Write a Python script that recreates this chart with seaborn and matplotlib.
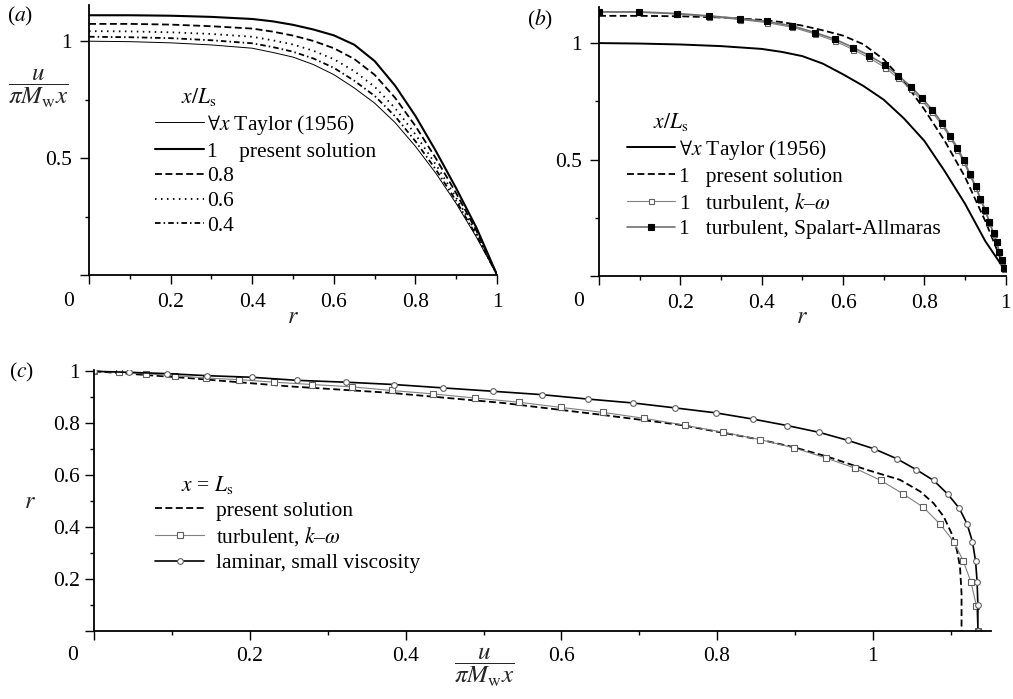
import matplotlib
matplotlib.use('Agg')
import matplotlib.pyplot as plt
import seaborn as sns

# panels (a), (b): u/(pi Mw x) against r
r_grid = [0, 0.1, 0.2, 0.3, 0.4, 0.45, 0.5, 0.55, 0.6, 0.65, 0.7, 0.75, 0.8, 0.85, 0.9, 0.95, 1.0]
taylor = [1.0, 0.998, 0.993, 0.984, 0.97, 0.952, 0.932, 0.9, 0.857, 0.8, 0.735, 0.652, 0.55, 0.435, 0.305, 0.16, 0.0]
present_10 = [1.111, 1.111, 1.109, 1.104, 1.095, 1.085, 1.07, 1.05, 1.025, 0.985, 0.915, 0.81, 0.68, 0.53, 0.37, 0.2, 0.0]
present_08 = [1.074, 1.074, 1.071, 1.064, 1.054, 1.041, 1.024, 1.001, 0.970, 0.924, 0.856, 0.758, 0.637, 0.499, 0.349, 0.187, 0.0]
present_06 = [1.043, 1.042, 1.038, 1.031, 1.019, 1.004, 0.986, 0.959, 0.923, 0.872, 0.805, 0.714, 0.601, 0.472, 0.330, 0.176, 0.0]
present_04 = [1.019, 1.017, 1.013, 1.004, 0.991, 0.975, 0.955, 0.926, 0.886, 0.831, 0.766, 0.679, 0.572, 0.451, 0.316, 0.167, 0.0]

taylor_b = [1.0, 0.998, 0.994, 0.987, 0.975, 0.962, 0.944, 0.912, 0.866, 0.816, 0.757, 0.676, 0.58, 0.45, 0.31, 0.149, 0.02]
present_b = [1.117, 1.117, 1.115, 1.11, 1.10, 1.09, 1.075, 1.055, 1.032, 0.995, 0.93, 0.835, 0.715, 0.58, 0.425, 0.235, 0.02]
r_turb = [0, 0.099, 0.191, 0.271, 0.347, 0.412, 0.475, 0.531, 0.580, 0.625, 0.665, 0.703, 0.736, 0.767, 0.793,
          0.820, 0.843, 0.863, 0.881, 0.897, 0.912, 0.926, 0.938, 0.950, 0.960, 0.970, 0.978, 0.984, 0.990, 0.996]
u_sa = [1.134, 1.134, 1.127, 1.117, 1.105, 1.093, 1.074, 1.045, 1.017, 0.981, 0.946, 0.906, 0.860, 0.813, 0.765,
        0.713, 0.658, 0.603, 0.551, 0.496, 0.439, 0.385, 0.332, 0.282, 0.232, 0.183, 0.147, 0.104, 0.068, 0.033]
u_kw = [1.134, 1.132, 1.125, 1.114, 1.101, 1.088, 1.068, 1.039, 1.009, 0.972, 0.936, 0.895, 0.849, 0.802, 0.754,
        0.702, 0.648, 0.594, 0.542, 0.488, 0.432, 0.379, 0.327, 0.277, 0.228, 0.180, 0.144, 0.102, 0.066, 0.032]

# panel (c): r against u/(pi Mw x) at x = Ls
u_pres_c = [0, 0.12, 0.25, 0.38, 0.525, 0.65, 0.752, 0.855, 0.898, 0.941, 0.992, 1.035, 1.061, 1.078, 1.091,
            1.101, 1.108, 1.112, 1.114, 1.114]
r_pres_c = [1.0, 0.974, 0.942, 0.917, 0.878, 0.833, 0.794, 0.737, 0.708, 0.672, 0.621, 0.582, 0.537, 0.492, 0.441,
            0.377, 0.312, 0.248, 0.145, 0.0]
u_kw_c = [0, 0.032, 0.066, 0.104, 0.144, 0.186, 0.231, 0.280, 0.331, 0.382, 0.435, 0.489, 0.545, 0.599, 0.653,
          0.706, 0.759, 0.808, 0.855, 0.899, 0.940, 0.977, 1.010, 1.039, 1.065, 1.086, 1.104, 1.116, 1.126, 1.133, 1.135]
r_kw_c = [1.0, 0.996, 0.990, 0.983, 0.974, 0.968, 0.958, 0.949, 0.940, 0.926, 0.913, 0.897, 0.881, 0.861, 0.842,
          0.819, 0.792, 0.765, 0.737, 0.705, 0.666, 0.627, 0.580, 0.528, 0.476, 0.413, 0.344, 0.271, 0.190, 0.098, 0.0]
u_lam_c = [0, 0.045, 0.093, 0.145, 0.202, 0.261, 0.323, 0.385, 0.448, 0.512, 0.575, 0.634, 0.692, 0.746, 0.798,
           0.846, 0.890, 0.931, 0.968, 1.002, 1.031, 1.056, 1.078, 1.096, 1.111, 1.121, 1.128, 1.132, 1.134, 1.135, 1.135]
r_lam_c = [1.0, 0.996, 0.991, 0.983, 0.977, 0.965, 0.958, 0.949, 0.936, 0.923, 0.910, 0.893, 0.878, 0.859, 0.840,
           0.816, 0.791, 0.765, 0.734, 0.701, 0.663, 0.621, 0.580, 0.528, 0.473, 0.413, 0.344, 0.270, 0.190, 0.100, 0.0]

FS = 15.5
sns.set_theme(style='ticks')
plt.rcParams['font.family'] = ['Liberation Serif', 'DejaVu Serif']
plt.rcParams['mathtext.fontset'] = 'stix'
plt.rcParams['lines.scale_dashes'] = False
plt.rcParams['axes.linewidth'] = 1.3
plt.rcParams['axes.edgecolor'] = 'black'
plt.rcParams['text.color'] = 'black'
plt.rcParams['xtick.color'] = 'black'
plt.rcParams['ytick.color'] = 'black'

fig = plt.figure(figsize=(10.13, 6.99), dpi=100)
ax_a = fig.add_axes([0.0879, 0.6066, 0.4028, 0.3863])
ax_b = fig.add_axes([0.5913, 0.6052, 0.4015, 0.3848])
ax_c = fig.add_axes([0.0931, 0.0973, 0.8853, 0.3734])

frac = r'$\dfrac{u}{\pi M_\mathrm{w} x}$'


def line(ax, x, y, label, **kw):
    sns.lineplot(x=x, y=y, ax=ax, label=label, estimator=None, sort=False, **kw)


# (a)
line(ax_a, r_grid, taylor, r'$\forall x$ Taylor (1956)', color='black', linewidth=0.7)
line(ax_a, r_grid, present_10, '1    present solution', color='black', linewidth=1.5)
line(ax_a, r_grid, present_08, '0.8', color='black', linewidth=1.3, linestyle=(0, (5, 2.5)))
line(ax_a, r_grid, present_06, '0.6', color='black', linewidth=1.3, linestyle=(0, (1.1, 3.2)))
line(ax_a, r_grid, present_04, '0.4', color='black', linewidth=1.3, linestyle=(0, (4, 2.2, 1.1, 2.2)))

# (b)
line(ax_b, r_grid, taylor_b, r'$\forall x$ Taylor (1956)', color='black', linewidth=1.4)
line(ax_b, r_grid, present_b, '1   present solution', color='black', linewidth=1.3, linestyle=(0, (5, 2.5)))
line(ax_b, r_turb, u_kw, r'1   turbulent, $k$–$\omega$', color='#808080', linewidth=0.8, marker='s',
     markersize=3.6, markerfacecolor='white', markeredgecolor='#606060', markeredgewidth=0.8)
line(ax_b, r_turb, u_sa, '1   turbulent, Spalart-Allmaras', color='#707070', linewidth=1.2, marker='s',
     markersize=4.8, markerfacecolor='black', markeredgecolor='black', markeredgewidth=0.8)

# (c)
line(ax_c, u_pres_c, r_pres_c, 'present solution', color='black', linewidth=1.3, linestyle=(0, (5, 2.5)))
line(ax_c, u_kw_c, r_kw_c, r'turbulent, $k$–$\omega$', color='#808080', linewidth=0.8, marker='s',
     markersize=4.3, markerfacecolor='white', markeredgecolor='#606060', markeredgewidth=0.8)
line(ax_c, u_lam_c, r_lam_c, 'laminar, small viscosity', color='black', linewidth=1.2, marker='o',
     markersize=4.1, markerfacecolor='white', markeredgecolor='#606060', markeredgewidth=0.8)

for ax in (ax_a, ax_b):
    ax.set_xlim(0, 1)
    ax.set_ylim(0, 1.155)
    ax.set_xticks([0, 0.2, 0.4, 0.6, 0.8, 1.0], ['', '0.2', '0.4', '0.6', '0.8', '1'])
    ax.set_xticks([0.1, 0.3, 0.5, 0.7, 0.9], minor=True)
    ax.set_yticks([0, 0.5, 1.0], ['', '0.5', '1'])
    ax.set_yticks([0.25, 0.75], minor=True)
    ax.tick_params(axis='x', which='major', pad=6.5)
    ax.tick_params(axis='y', which='major', pad=6)

ax_c.set_xlim(0, 1.152)
ax_c.set_ylim(0, 1.005)
ax_c.set_xticks([0, 0.2, 0.4, 0.6, 0.8, 1.0], ['', '0.2', '0.4', '0.6', '0.8', '1'])
ax_c.set_xticks([0.1, 0.3, 0.5, 0.7, 0.9, 1.1], minor=True)
ax_c.set_yticks([0, 0.2, 0.4, 0.6, 0.8, 1.0], ['', '0.2', '0.4', '0.6', '0.8', '1'])
ax_c.set_yticks([0.1, 0.3, 0.5, 0.7, 0.9], minor=True)
ax_c.tick_params(axis='x', which='major', pad=5)
ax_c.tick_params(axis='y', which='major', pad=4)

for ax in (ax_a, ax_b, ax_c):
    sns.despine(ax=ax)
    ax.tick_params(which='major', direction='out', length=6.5, width=1.0, labelsize=FS)
    ax.tick_params(which='minor', direction='out', length=3, width=1.0)
    ax.set_xlabel('')
    ax.set_ylabel('')

# corner zeros
ax_a.annotate('0', xy=(0, 0), xytext=(-15, -19.4), textcoords='offset points', ha='center', va='center', fontsize=FS)
ax_b.annotate('0', xy=(0, 0), xytext=(-14.4, -18.7), textcoords='offset points', ha='center', va='center', fontsize=FS)
ax_c.annotate('0', xy=(0, 0), xytext=(-16, -18), textcoords='offset points', ha='center', va='center', fontsize=FS)

# axis labels
ax_a.set_xlabel('$r$', fontsize=FS + 2)
ax_a.xaxis.set_label_coords(0.5, -0.159)
ax_a.xaxis.label.set_va('center')
ax_b.set_xlabel('$r$', fontsize=FS + 2)
ax_b.xaxis.set_label_coords(0.5, -0.156)
ax_b.xaxis.label.set_va('center')
ax_a.set_ylabel(frac, fontsize=18, rotation=0)
ax_a.yaxis.set_label_coords(-0.125, 0.689)
ax_a.yaxis.label.set_va('center')
ax_a.yaxis.label.set_ha('center')
ax_c.set_xlabel(frac, fontsize=18)
ax_c.xaxis.set_label_coords(0.4346, -0.138)
ax_c.xaxis.label.set_va('center')
ax_c.set_ylabel('$r$', fontsize=FS + 2, rotation=0)
ax_c.yaxis.set_label_coords(-0.0717, 0.494)
ax_c.yaxis.label.set_va('center')
ax_c.yaxis.label.set_ha('center')

# panel tags
ax_a.text(-0.169, 0.956, '($a$)', transform=ax_a.transAxes, ha='center', va='center', fontsize=FS)
ax_b.text(-0.145, 0.952, '($b$)', transform=ax_b.transAxes, ha='center', va='center', fontsize=FS)
ax_c.text(-0.0817, 0.992, '($c$)', transform=ax_c.transAxes, ha='center', va='center', fontsize=FS)

leg_kw = dict(loc='upper left', frameon=False, alignment='left', handlelength=2.25,
              labelspacing=0.22, borderaxespad=0, borderpad=0, fontsize=FS, title_fontsize=FS)
ax_a.legend(title='     $x/L_\\mathrm{s}$', bbox_to_anchor=(0.162, 0.70), handletextpad=0.15, **leg_kw)
ax_b.legend(title='     $x/L_\\mathrm{s}$', bbox_to_anchor=(0.069, 0.613), handletextpad=0.15, **leg_kw)
ax_c.legend(title='     $x$ = $L_\\mathrm{s}$', bbox_to_anchor=(0.068, 0.602), handletextpad=0.55, **leg_kw)

fig.savefig('out.png', dpi=100)
